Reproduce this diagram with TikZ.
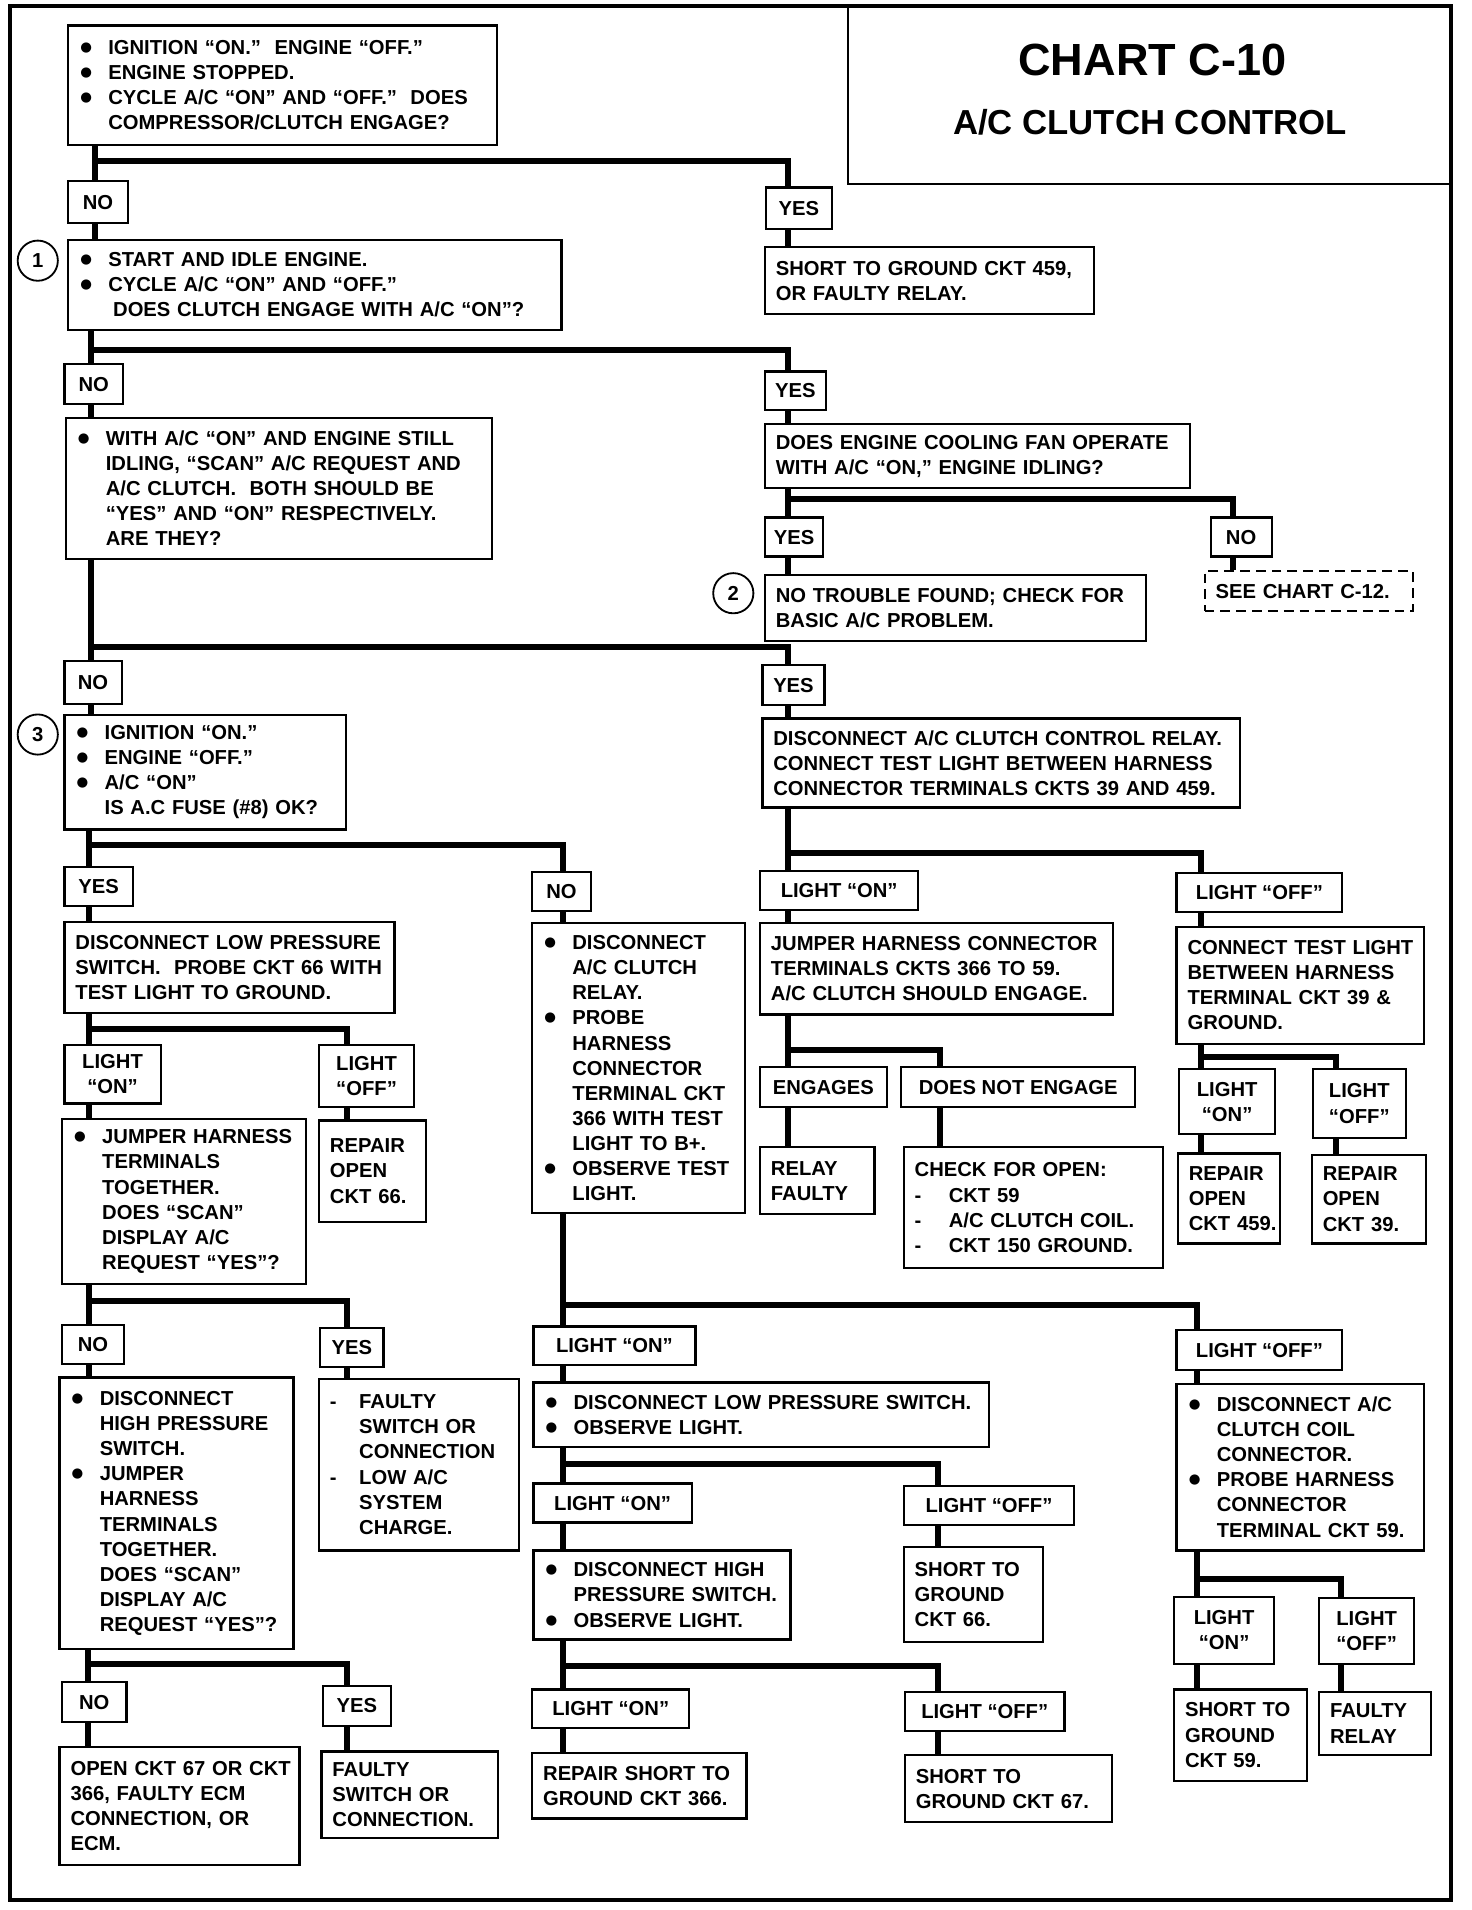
\documentclass[tikz,border=0pt]{standalone}
\usepackage{fontspec}
\setmainfont{Liberation Sans}
\newfontfamily\dejavu{DejaVu Sans}
\usetikzlibrary{calc}
\newcommand\boxfont{\fontsize{16.6}{20.6}\selectfont\bfseries}
\newcommand\bulx{\makebox[24pt][l]{\hspace*{1pt}\raisebox{2.5pt}{\dejavu\fontsize{11}{11}\selectfont ●}}}
\newcommand\indx{\hspace*{24pt}}
\newcommand\dshx{\makebox[24pt][l]{-}}
\newcommand\dshy{\makebox[28pt][l]{-}}
\tikzset{
  box/.style 2 args={draw, line width=1.8pt, anchor=north west, font=\boxfont,
    align=left, inner xsep=0pt, inner ysep=0pt, minimum width=#1pt,
    minimum height=#2pt, text width=#1pt, execute at begin node={\leftskip=9pt}},
  lbl/.style 2 args={draw, line width=1.8pt, anchor=north west, font=\boxfont,
    align=center, inner sep=0pt, minimum width=#1pt, minimum height=#2pt},
  num/.style={circle, draw, line width=1.5pt, minimum size=33pt, inner sep=0pt, font=\boxfont},
  flow/.style={line width=5pt}
}
\begin{document}
\begin{tikzpicture}[x=1pt, y=-1pt]
\path[use as bounding box, fill=white] (0,0) rectangle (1208,1568);
\draw[line width=3pt] (8,5) rectangle (1191,1560);
% title
\node[draw, line width=1.8pt, anchor=north west, minimum width=496pt, minimum height=145pt, inner sep=0pt] (chart) at (695,5) {};
\node[font=\fontsize{37}{40}\selectfont\bfseries] (ttl) at (946,49) {CHART C-10};
\node[font=\fontsize{28.5}{30}\selectfont\bfseries] (sub) at (944,100) {A/C CLUTCH CONTROL};
% boxes, top to bottom
\node[box={352}{98}] (q1) at (55,20) {\bulx IGNITION “ON.”~ ENGINE “OFF.”\\ \bulx ENGINE STOPPED.\\ \bulx CYCLE A/C “ON” AND “OFF.”~ DOES\\ \indx COMPRESSOR/CLUTCH ENGAGE?};
\node[lbl={49}{34}] (no1) at (55,148) {NO};
\node[lbl={54}{34}] (yes1) at (628,153) {YES};
\node[box={270}{55}] (r1) at (627,202) {SHORT TO GROUND CKT 459,\\ OR FAULTY RELAY.};
\node[num] (c1) at (31,214) {1};
\node[box={405}{74}] (q2) at (55,196) {\bulx START AND IDLE ENGINE.\\ \bulx CYCLE A/C “ON” AND “OFF.”\\ \hspace*{28pt}DOES CLUTCH ENGAGE WITH A/C “ON”?};
\node[lbl={48}{33}] (no2) at (52,298) {NO};
\node[lbl={50}{32}] (yes2) at (627,304) {YES};
\node[box={350}{116}] (q3) at (53,342) {\bulx WITH A/C “ON” AND ENGINE STILL\\ \indx IDLING, “SCAN” A/C REQUEST AND\\ \indx A/C CLUTCH.~ BOTH SHOULD BE\\ \indx “YES” AND “ON” RESPECTIVELY.\\ \indx ARE THEY?};
\node[box={349}{53}] (fan) at (627,347) {DOES ENGINE COOLING FAN OPERATE\\ WITH A/C “ON,” ENGINE IDLING?};
\node[lbl={48}{32}] (yes3) at (627,424) {YES};
\node[lbl={50}{32}] (no3) at (993,424) {NO};
\node[box={313}{54}] (nt) at (627,471) {NO TROUBLE FOUND; CHECK FOR\\ BASIC A/C PROBLEM.};
\node[num] (c2) at (602,487) {2};
\node[box={171}{33}, dash pattern=on 8pt off 5pt] (see) at (988,468) {SEE CHART C-12.};
\node[lbl={47}{35}] (no4) at (52,542) {NO};
\node[lbl={51}{33}] (yes4) at (625,545) {YES};
\node[num] (c3) at (31,603) {3};
\node[box={231}{94}] (q4) at (52,586) {\bulx IGNITION “ON.”\\ \bulx ENGINE “OFF.”\\ \bulx A/C “ON”\\ \indx IS A.C FUSE (\#8) OK?};
\node[box={392}{73}] (relay) at (625,589) {DISCONNECT A/C CLUTCH CONTROL RELAY.\\ CONNECT TEST LIGHT BETWEEN HARNESS\\ CONNECTOR TERMINALS CKTS 39 AND 459.};
\node[lbl={56}{32}] (yes5) at (52,711) {YES};
\node[lbl={48}{32}] (no5) at (436,715) {NO};
\node[lbl={130}{32}] (lon1) at (623,714) {LIGHT “ON”};
\node[lbl={136}{32}] (loff1) at (965,716) {LIGHT “OFF”};
\node[box={271}{75}] (lps) at (52,756) {DISCONNECT LOW PRESSURE\\ SWITCH.~ PROBE CKT 66 WITH\\ TEST LIGHT TO GROUND.};
\node[box={175}{238}] (probe) at (436,757) {\bulx DISCONNECT\\ \indx A/C CLUTCH\\ \indx RELAY.\\ \bulx PROBE\\ \indx HARNESS\\ \indx CONNECTOR\\ \indx TERMINAL CKT\\ \indx 366 WITH TEST\\ \indx LIGHT TO B+.\\ \bulx OBSERVE TEST\\ \indx LIGHT.};
\node[box={290}{75}] (jhc) at (623,757) {JUMPER HARNESS CONNECTOR\\ TERMINALS CKTS 366 TO 59.\\ A/C CLUTCH SHOULD ENGAGE.};
\node[box={203}{96}] (ctl) at (965,760) {CONNECT TEST LIGHT\\ BETWEEN HARNESS\\ TERMINAL CKT 39 \&\\ GROUND.};
\node[lbl={79}{48}] (lon2) at (52,857) {LIGHT\\ “ON”};
\node[lbl={78}{51}] (loff2) at (261,857) {LIGHT\\ “OFF”};
\node[lbl={104}{33}] (eng) at (623,875) {ENGAGES};
\node[lbl={192}{33}] (dne) at (739,875) {DOES NOT ENGAGE};
\node[lbl={79}{53}] (lon3) at (967,877) {LIGHT\\ “ON”};
\node[lbl={76}{56}] (loff3) at (1077,877) {LIGHT\\ “OFF”};
\node[box={200}{135}] (jht) at (50,918) {\bulx JUMPER HARNESS\\ \indx TERMINALS\\ \indx TOGETHER.\\ \indx DOES “SCAN”\\ \indx DISPLAY A/C\\ \indx REQUEST “YES”?};
\node[box={88}{83}] (ro66) at (261,919) {REPAIR\\ OPEN\\ CKT 66.};
\node[box={94}{55}] (rf) at (623,941) {RELAY\\ FAULTY};
\node[box={213}{99}] (cfo) at (741,941) {CHECK FOR OPEN:\\ \dshy CKT 59\\ \dshy A/C CLUTCH COIL.\\ \dshy CKT 150 GROUND.};
\node[box={84}{74}] (ro459) at (966,946) {REPAIR\\ OPEN\\ CKT 459.};
\node[box={94}{73}] (ro39) at (1076,947) {REPAIR\\ OPEN\\ CKT 39.};
\node[lbl={51}{32}] (no6) at (50,1087) {NO};
\node[lbl={52}{32}] (yes6) at (262,1089) {YES};
\node[lbl={133}{32}] (lon4) at (437,1088) {LIGHT “ON”};
\node[lbl={136}{33}] (loff4) at (965,1091) {LIGHT “OFF”};
\node[box={192}{223}] (dhp) at (48,1130) {\bulx DISCONNECT\\ \indx HIGH PRESSURE\\ \indx SWITCH.\\ \bulx JUMPER\\ \indx HARNESS\\ \indx TERMINALS\\ \indx TOGETHER.\\ \indx DOES “SCAN”\\ \indx DISPLAY A/C\\ \indx REQUEST “YES”?};
\node[box={164}{141}] (fsw) at (261,1131) {\dshx FAULTY\\ \indx SWITCH OR\\ \indx CONNECTION\\ \dshx LOW A/C\\ \indx SYSTEM\\ \indx CHARGE.};
\node[box={374}{53}] (dlp) at (437,1134) {\bulx DISCONNECT LOW PRESSURE SWITCH.\\ \bulx OBSERVE LIGHT.};
\node[box={203}{137}] (dcc) at (965,1135) {\bulx DISCONNECT A/C\\ \indx CLUTCH COIL\\ \indx CONNECTOR.\\ \bulx PROBE HARNESS\\ \indx CONNECTOR\\ \indx TERMINAL CKT 59.};
\node[lbl={130}{32}] (lon5) at (437,1217) {LIGHT “ON”};
\node[lbl={140}{32}] (loff5) at (741,1219) {LIGHT “OFF”};
\node[box={211}{73}] (dhs) at (437,1272) {\bulx DISCONNECT HIGH\\ \indx PRESSURE SWITCH.\\ \bulx OBSERVE LIGHT.};
\node[box={114}{78}] (sg66) at (741,1269) {SHORT TO\\ GROUND\\ CKT 66.};
\node[lbl={82}{55}] (lon6) at (963,1310) {LIGHT\\ “ON”};
\node[lbl={78}{54}] (loff6) at (1082,1311) {LIGHT\\ “OFF”};
\node[lbl={53}{33}] (no7) at (50,1380) {NO};
\node[lbl={56}{33}] (yes7) at (264,1383) {YES};
\node[lbl={129}{32}] (lon7) at (436,1386) {LIGHT “ON”};
\node[lbl={131}{32}] (loff7) at (742,1388) {LIGHT “OFF”};
\node[box={109}{75}] (sg59) at (963,1386) {SHORT TO\\ GROUND\\ CKT 59.};
\node[box={92}{52}] (frl) at (1082,1388) {FAULTY\\ RELAY};
\node[box={197}{97}] (oc67) at (48,1433) {OPEN CKT 67 OR CKT\\ 366, FAULTY ECM\\ CONNECTION, OR\\ ECM.};
\node[box={145}{71}] (fsc) at (263,1437) {FAULTY\\ SWITCH OR\\ CONNECTION.};
\node[box={176}{54}] (rs366) at (436,1438) {REPAIR SHORT TO\\ GROUND CKT 366.};
\node[box={170}{55}] (sg67) at (742,1440) {SHORT TO\\ GROUND CKT 67.};
% branch points
\coordinate (b1) at (78,132);    \coordinate (b1r) at (647,132);
\coordinate (b2) at (75,287);    \coordinate (b2r) at (647,287);
\coordinate (b3) at (647,410);   \coordinate (b3r) at (1012,410);
\coordinate (b4) at (75,531);    \coordinate (b4r) at (647,531);
\coordinate (b5) at (73,694);    \coordinate (b5r) at (462,694);
\coordinate (b6) at (647,700);   \coordinate (b6r) at (986,700);
\coordinate (b7) at (73,845);    \coordinate (b7r) at (285,845);
\coordinate (b8) at (647,862);   \coordinate (b8r) at (772,862);
\coordinate (b9) at (986,868);   \coordinate (b9r) at (1097,868);
\coordinate (b10) at (73,1068);  \coordinate (b10r) at (285,1068);
\coordinate (b11) at (462,1071); \coordinate (b11r) at (983,1071);
\coordinate (b12) at (462,1202); \coordinate (b12r) at (770,1202);
\coordinate (b13) at (462,1368); \coordinate (b13r) at (770,1368);
\coordinate (b14) at (983,1296); \coordinate (b14r) at (1101,1296);
\coordinate (b15) at (72,1366);  \coordinate (b15r) at (285,1366);
% connectors, each branch: left leg, bar and right leg, then on to the next box
\draw[flow] (q1.south -| b1) -- (no1.north -| b1);
\draw[flow] (b1) -- (b1r) -- (yes1.north -| b1r);
\draw[flow] (no1.south -| b1) -- (q2.north -| b1);
\draw[flow] (yes1.south -| b1r) -- (r1.north -| b1r);
%
\draw[flow] (q2.south -| b2) -- (no2.north -| b2);
\draw[flow] (b2) -- (b2r) -- (yes2.north -| b2r);
\draw[flow] (no2.south -| b2) -- (q3.north -| b2);
\draw[flow] (yes2.south -| b2r) -- (fan.north -| b2r);
%
\draw[flow] (fan.south -| b3) -- (yes3.north -| b3);
\draw[flow] (b3) -- (b3r) -- (no3.north -| b3r);
\draw[flow] (yes3.south -| b3) -- (nt.north -| b3);
\draw[flow] (no3.south -| b3r) -- (see.north -| b3r);
%
\draw[flow] (q3.south -| b4) -- (no4.north -| b4);
\draw[flow] (b4) -- (b4r) -- (yes4.north -| b4r);
\draw[flow] (no4.south -| b4) -- (q4.north -| b4);
\draw[flow] (yes4.south -| b4r) -- (relay.north -| b4r);
%
\draw[flow] (q4.south -| b5) -- (yes5.north -| b5);
\draw[flow] (b5) -- (b5r) -- (no5.north -| b5r);
\draw[flow] (yes5.south -| b5) -- (lps.north -| b5);
\draw[flow] (no5.south -| b5r) -- (probe.north -| b5r);
%
\draw[flow] (relay.south -| b6) -- (lon1.north -| b6);
\draw[flow] (b6) -- (b6r) -- (loff1.north -| b6r);
\draw[flow] (lon1.south -| b6) -- (jhc.north -| b6);
\draw[flow] (loff1.south -| b6r) -- (ctl.north -| b6r);
%
\draw[flow] (lps.south -| b7) -- (lon2.north -| b7);
\draw[flow] (b7) -- (b7r) -- (loff2.north -| b7r);
\draw[flow] (lon2.south -| b7) -- (jht.north -| b7);
\draw[flow] (loff2.south -| b7r) -- (ro66.north -| b7r);
%
\draw[flow] (jhc.south -| b8) -- (eng.north -| b8);
\draw[flow] (b8) -- (b8r) -- (dne.north -| b8r);
\draw[flow] (eng.south -| b8) -- (rf.north -| b8);
\draw[flow] (dne.south -| b8r) -- (cfo.north -| b8r);
%
\draw[flow] (ctl.south -| b9) -- (lon3.north -| b9);
\draw[flow] (b9) -- (b9r) -- (loff3.north -| b9r);
\draw[flow] (lon3.south -| b9) -- (ro459.north -| b9);
\draw[flow] (loff3.south -| b9r) -- (ro39.north -| b9r);
%
\draw[flow] (jht.south -| b10) -- (no6.north -| b10);
\draw[flow] (b10) -- (b10r) -- (yes6.north -| b10r);
\draw[flow] (no6.south -| b10) -- (dhp.north -| b10);
\draw[flow] (yes6.south -| b10r) -- (fsw.north -| b10r);
%
\draw[flow] (probe.south -| b11) -- (lon4.north -| b11);
\draw[flow] (b11) -- (b11r) -- (loff4.north -| b11r);
\draw[flow] (lon4.south -| b11) -- (dlp.north -| b11);
\draw[flow] (loff4.south -| b11r) -- (dcc.north -| b11r);
%
\draw[flow] (dlp.south -| b12) -- (lon5.north -| b12);
\draw[flow] (b12) -- (b12r) -- (loff5.north -| b12r);
\draw[flow] (lon5.south -| b12) -- (dhs.north -| b12);
\draw[flow] (loff5.south -| b12r) -- (sg66.north -| b12r);
%
\draw[flow] (dhs.south -| b13) -- (lon7.north -| b13);
\draw[flow] (b13) -- (b13r) -- (loff7.north -| b13r);
\draw[flow] (lon7.south -| b13) -- (rs366.north -| b13);
\draw[flow] (loff7.south -| b13r) -- (sg67.north -| b13r);
%
\draw[flow] (dcc.south -| b14) -- (lon6.north -| b14);
\draw[flow] (b14) -- (b14r) -- (loff6.north -| b14r);
\draw[flow] (lon6.south -| b14) -- (sg59.north -| b14);
\draw[flow] (loff6.south -| b14r) -- (frl.north -| b14r);
%
\draw[flow] (dhp.south -| b15) -- (no7.north -| b15);
\draw[flow] (b15) -- (b15r) -- (yes7.north -| b15r);
\draw[flow] (no7.south -| b15) -- (oc67.north -| b15);
\draw[flow] (yes7.south -| b15r) -- (fsc.north -| b15r);
\end{tikzpicture}
\end{document}
